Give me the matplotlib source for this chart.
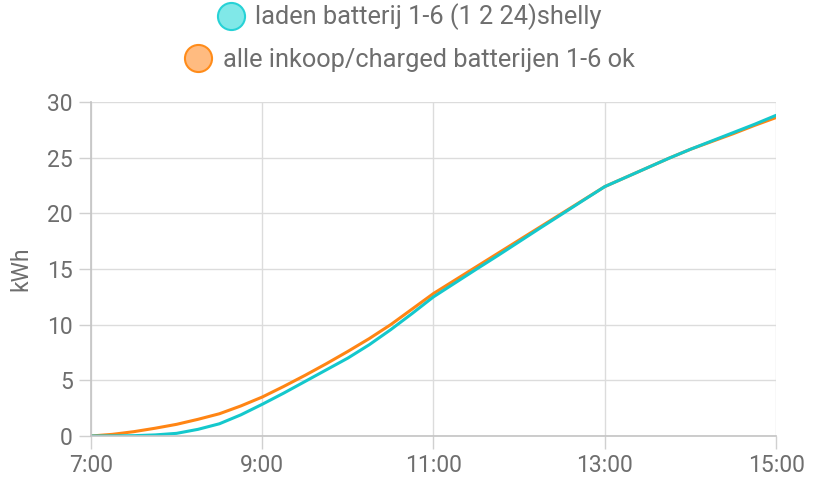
import numpy as np
import matplotlib.pyplot as plt
from matplotlib.lines import Line2D

plt.rcParams['font.family'] = ['Roboto', 'DejaVu Sans']

# tijd in uren, per kwartier van 7:00 tot 15:00
uren = [7 + i * 0.25 for i in range(33)]
shelly = [0.0, 0.01, 0.03, 0.1, 0.24, 0.6, 1.1, 1.9, 2.85, 3.85, 4.9, 5.95, 7.0, 8.2, 9.55, 11.0,
          12.5, 13.74, 14.98, 16.2, 17.45, 18.7, 19.93, 21.17, 22.4, 23.25, 24.1, 24.95, 25.75, 26.5,
          27.25, 28.0, 28.8]
inkoop = [0.0, 0.15, 0.39, 0.7, 1.05, 1.5, 2.0, 2.7, 3.5, 4.45, 5.45, 6.5, 7.6, 8.75, 10.0, 11.4,
          12.8, 14.0, 15.2, 16.4, 17.6, 18.8, 20.0, 21.2, 22.4, 23.25, 24.1, 24.95, 25.75, 26.45,
          27.15, 27.9, 28.6]
labels = ['laden batterij 1-6 (1 2 24)shelly', 'alle inkoop/charged batterijen 1-6 ok']
xticks = [7, 9, 11, 13, 15]
xlabels = ['7:00', '9:00', '11:00', '13:00', '15:00']

grijs = '#6e6e6e'
fig = plt.figure(figsize=(8.18, 4.97), dpi=100)
ax = fig.add_axes([0.1112, 0.1227, 0.8375, 0.6721])

ax.plot(uren, inkoop, color='#ff8514', lw=2.2, solid_capstyle='round')
ax.plot(uren, shelly, color='#14c8cc', lw=2.2, solid_capstyle='round')

ax.set_xlim(7, 15)
ax.set_ylim(0, 30)
ax.set_xticks(xticks)
ax.set_xticklabels(xlabels)
ax.set_yticks(range(0, 31, 5))
ax.grid(True, color='#dcdcdc', lw=1)
ax.set_axisbelow(True)
for s in ['top', 'right']:
    ax.spines[s].set_visible(False)
for s in ['left', 'bottom']:
    ax.spines[s].set_color('#c4c4c4')
    ax.spines[s].set_linewidth(1.2)
ax.tick_params(colors='#d0d0d0', labelcolor=grijs, labelsize=16.5, length=9, width=1)
ax.tick_params(axis='x', pad=4)
ax.tick_params(axis='y', pad=4)
ax.set_ylabel('kWh', color=grijs, fontsize=16.5, labelpad=11)

h1 = Line2D([], [], ls='none', marker='o', markersize=19.5, markerfacecolor='#80e8e8',
            markeredgecolor='#27d2d6', markeredgewidth=1.5)
h2 = Line2D([], [], ls='none', marker='o', markersize=19.5, markerfacecolor='#ffbb80',
            markeredgecolor='#ff8c1a', markeredgewidth=1.5)
for h, lab, y in [(h1, labels[0], 1 - 17 / 497), (h2, labels[1], 1 - 60 / 497)]:
    fig.legend([h], [lab], loc='center', bbox_to_anchor=(0.5, y), frameon=False,
               fontsize=18.3, handletextpad=0.4, handlelength=1.15, labelcolor=grijs)

fig.savefig('out.png', dpi=100)
